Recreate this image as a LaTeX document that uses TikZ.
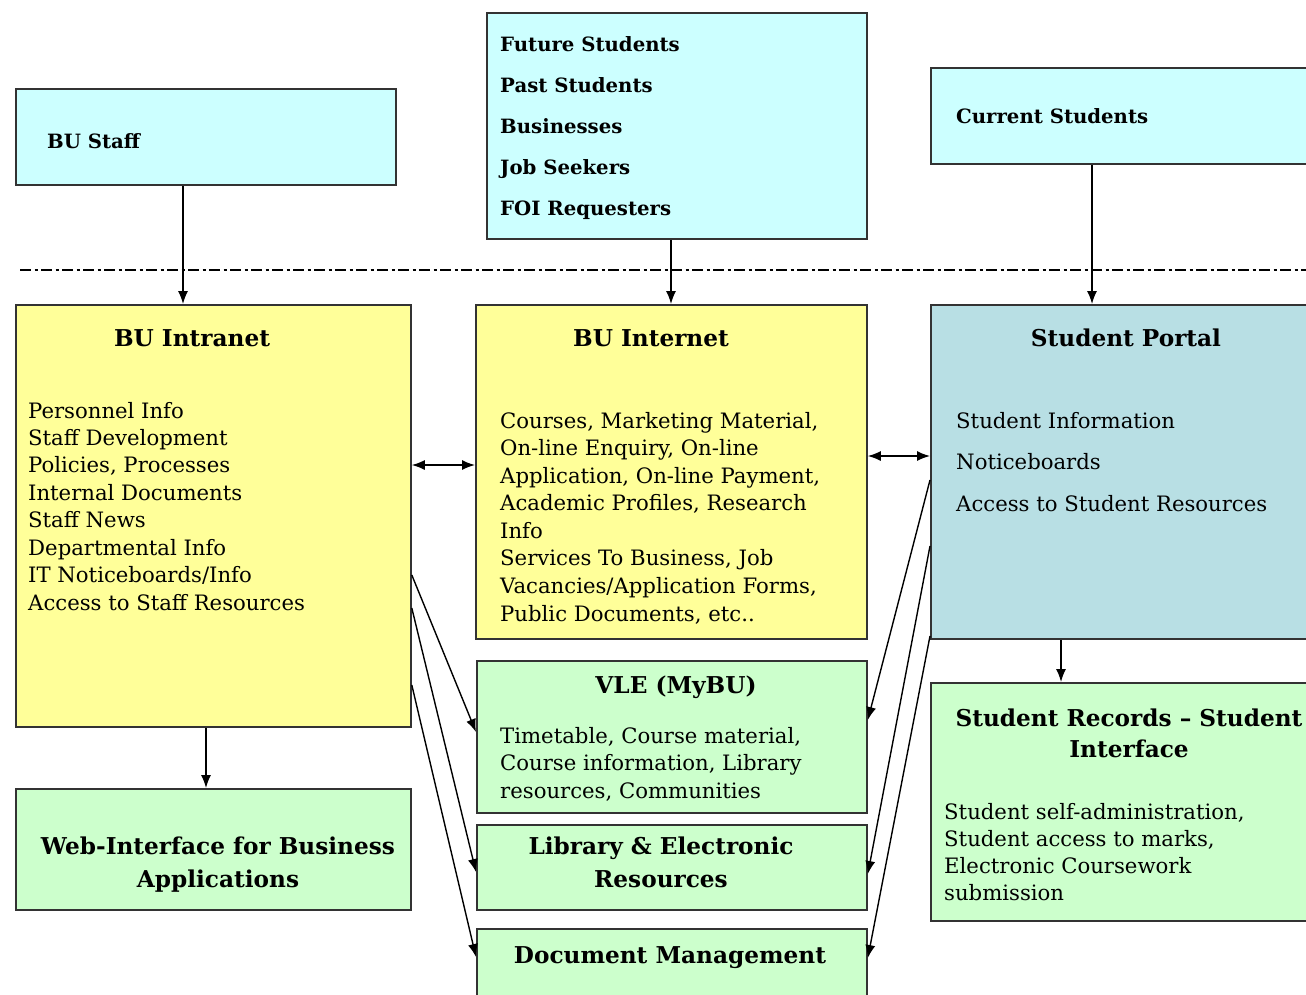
\documentclass[tikz,border=0pt]{standalone}
\usepackage{fontspec}
\setmainfont{DejaVu Serif}
\usetikzlibrary{arrows.meta}
\definecolor{cyanbox}{HTML}{CCFFFF}
\definecolor{yelbox}{HTML}{FFFF99}
\definecolor{grnbox}{HTML}{CCFFCC}
\definecolor{portbox}{HTML}{B8DFE4}
\definecolor{edge}{HTML}{333333}
\tikzset{
  box/.style={draw=edge, line width=1.8pt, inner sep=0pt, anchor=north west},
  bodytxt/.style={anchor=base west, inner sep=0pt, font=\fontsize{21.2}{24}\selectfont},
  toptxt/.style={anchor=base west, inner sep=0pt, font=\fontsize{19.7}{24}\selectfont\bfseries},
  titletxt/.style={anchor=base, inner sep=0pt, font=\fontsize{23.2}{26}\selectfont\bfseries},
  arr/.style={line width=1.4pt, -{Latex[length=13pt,width=10pt]}},
  darr/.style={line width=1.4pt, {Latex[length=13pt,width=10pt]}-{Latex[length=13pt,width=10pt]}},
  sepline/.style={line width=1.3pt, dash pattern=on 11pt off 3.5pt on 3pt off 3.5pt}
}
\begin{document}
\begin{tikzpicture}[x=1pt,y=-1pt]
\useasboundingbox (0,0) rectangle (1306,994);
\clip (0,0) rectangle (1306,994);
\fill[white] (0,0) rectangle (1306,994);

% top boxes
\node[box, fill=cyanbox, minimum width=380pt, minimum height=96pt] (staff) at (15,88) {};
\node[box, fill=cyanbox, minimum width=380pt, minimum height=226pt] (future) at (486,12) {};
\node[box, fill=cyanbox, minimum width=400pt, minimum height=96pt] (current) at (930,67) {};

\node[toptxt] (staffT) at (47,148) {BU Staff};
\node[toptxt] (curT) at (956,123) {Current Students};
\foreach \t [count=\i from 0] in {Future Students,Past Students,Businesses,Job Seekers,FOI Requesters}
  \node[toptxt] (fut\i) at (500,51+41*\i) {\t};

% separator
\coordinate (sepL) at (20,270);
\coordinate (sepR) at (1306,270);
\draw[sepline] (sepL) -- (sepR);

% main boxes
\node[box, fill=yelbox, minimum width=395pt, minimum height=422pt] (intra) at (15,304) {};
\node[box, fill=yelbox, minimum width=391pt, minimum height=334pt] (inter) at (475,304) {};
\node[box, fill=portbox, minimum width=400pt, minimum height=334pt] (portal) at (930,304) {};
\node[box, fill=grnbox, minimum width=395pt, minimum height=121pt] (web) at (15,788) {};
\node[box, fill=grnbox, minimum width=390pt, minimum height=152pt] (vle) at (476,660) {};
\node[box, fill=grnbox, minimum width=390pt, minimum height=85pt] (lib) at (476,824) {};
\node[box, fill=grnbox, minimum width=390pt, minimum height=90pt] (doc) at (476,928) {};
\node[box, fill=grnbox, minimum width=400pt, minimum height=238pt] (rec) at (930,682) {};

% titles
\node[titletxt] (intraT) at (192,346) {BU Intranet};
\node[titletxt] (interT) at (651,346) {BU Internet};
\node[titletxt] (portT) at (1126,346) {Student Portal};
\node[titletxt] (vleT) at (676,693) {VLE (MyBU)};
\node[titletxt] (libT1) at (661,854) {Library \& Electronic};
\node[titletxt] (libT2) at (661,887) {Resources};
\node[titletxt] (docT) at (670,963) {Document Management};
\node[titletxt] (webT1) at (218,854) {Web-Interface for Business};
\node[titletxt] (webT2) at (218,887) {Applications};
\node[titletxt] (recT1) at (1129,726) {Student Records – Student};
\node[titletxt] (recT2) at (1129,757) {Interface};

% body texts
\foreach \t [count=\i from 0] in {Personnel Info,Staff Development,{Policies, Processes},Internal Documents,Staff News,Departmental Info,IT Noticeboards/Info,Access to Staff Resources}
  \node[bodytxt] (intra\i) at (28,418+27.43*\i) {\t};
\foreach \t [count=\i from 0] in {{Courses, Marketing Material,},{On-line Enquiry, On-line},{Application, On-line Payment,},{Academic Profiles, Research},Info,{Services To Business, Job},{Vacancies/Application Forms,},{Public Documents, etc..}}
  \node[bodytxt] (inter\i) at (500,428+27.57*\i) {\t};
\foreach \t [count=\i from 0] in {Student Information,Noticeboards,Access to Student Resources}
  \node[bodytxt] (port\i) at (956,428+41.5*\i) {\t};
\foreach \t [count=\i from 0] in {{Timetable, Course material,},{Course information, Library},{resources, Communities}}
  \node[bodytxt] (vle\i) at (500,743+27.5*\i) {\t};
\foreach \t [count=\i from 0] in {{Student self-administration,},{Student access to marks,},Electronic Coursework,submission}
  \node[bodytxt] (rec\i) at (944,819+27.3*\i) {\t};

% vertical connectors
\draw[arr] (staff.south -| 183,0) -- (intra.north -| 183,0);
\draw[arr] (future.south -| 671,0) -- (inter.north -| 671,0);
\draw[arr] (current.south -| 1092,0) -- (portal.north -| 1092,0);
\draw[arr] (intra.south -| 206,0) -- (web.north -| 206,0);
\draw[arr] (portal.south -| 1061,0) -- (rec.north -| 1061,0);

% horizontal double arrows
\draw[darr] (intra.east |- 0,465) -- (inter.west |- 0,465);
\draw[darr] (inter.east |- 0,456) -- (portal.west |- 0,456);

% diagonal connectors from intranet
\draw[arr] (intra.east |- 0,575) -- (vle.west |- 0,732);
\draw[arr] (intra.east |- 0,608) -- (lib.west |- 0,872);
\draw[arr] (intra.east |- 0,685) -- (doc.west |- 0,957);

% diagonal connectors from portal
\draw[arr] (portal.west |- 0,480) -- (vle.east |- 0,720);
\draw[arr] (portal.west |- 0,546) -- (lib.east |- 0,874);
\draw[arr] (portal.west |- 0,636) -- (doc.east |- 0,958);
\end{tikzpicture}
\end{document}
